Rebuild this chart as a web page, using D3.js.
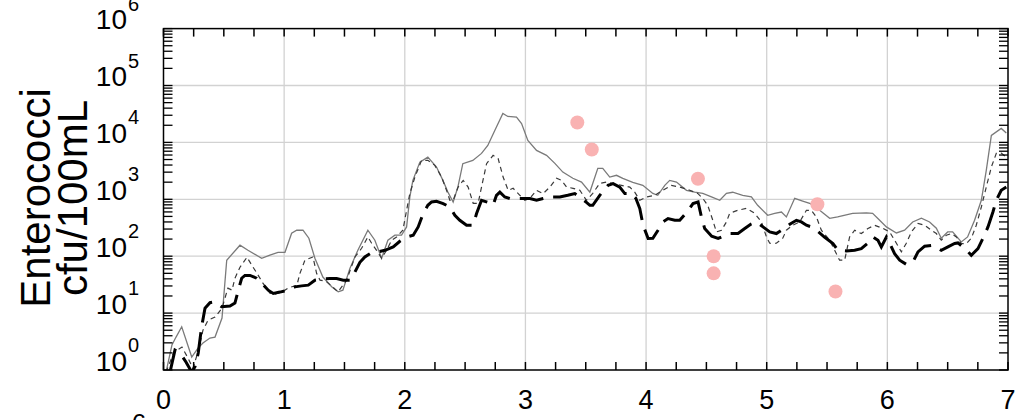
<!DOCTYPE html>
<html><head><meta charset="utf-8">
<script src="https://cdn.jsdelivr.net/npm/d3@7"></script>
<style>body{margin:0;background:#fff}svg{display:block}text{font-family:"Liberation Sans",Arial,sans-serif;fill:#000}</style>
</head><body><svg id="c" width="1020" height="420"></svg>
<script>
// x ticks (days) and y decades
const xTicks = [0,1,2,3,4,5,6,7];
const yDecades = [0,1,2,3,4,5,6];

// Series 1: thin grey solid line
const grayDays = [0.021,0.070,0.104,0.151,0.234,0.286,0.327,0.385,0.427,0.485,0.524,0.634,0.700,0.814,0.882,0.949,1.007,1.062,1.104,1.156,1.205,1.255,1.321,1.394,1.448,1.487,1.545,1.611,1.694,1.752,1.808,1.860,1.918,1.973,2.015,2.042,2.067,2.125,2.191,2.263,2.316,2.357,2.401,2.440,2.481,2.564,2.636,2.688,2.746,2.813,2.854,2.926,2.968,3.020,3.092,3.175,3.244,3.310,3.393,3.465,3.534,3.600,3.641,3.699,3.755,3.807,3.890,3.973,4.056,4.097,4.155,4.196,4.252,4.335,4.403,4.470,4.542,4.611,4.666,4.718,4.801,4.873,4.925,5.008,5.066,5.122,5.163,5.232,5.298,5.356,5.439,5.522,5.588,5.712,5.826,5.878,5.936,5.992,6.075,6.143,6.210,6.282,6.350,6.406,6.447,6.500,6.541,6.613,6.665,6.723,6.779,6.820,6.862,6.944,6.986];
const grayVals = [0.92,2.75,3.79,5.75,1.69,2.43,2.98,3.64,3.79,8.17,85,156,127,92,104,117,117,253,286,286,207,92,43,29,23.6,25.3,61,127,286,191,92,191,234,234,327,1100,2150,4510,5520,3690,2150,1340,897,1640,4230,4830,6410,8850,16200,32300,28600,27800,21500,10800,7240,5920,4280,3010,2340,2010,1340,3500,3500,2460,2640,2340,1990,1760,1270,1175,1760,2150,2010,1440,1340,1270,1100,960,1270,1330,1175,1100,785,524,568,598,489,1040,933,851,641,464,489,568,575,568,428,327,256,286,400,464,400,310,207,267,267,178,218,428,960,3230,13300,17600,14600];

// Series 2: thin dark dashed line
const dashDays = [0.021,0.087,0.153,0.203,0.244,0.286,0.327,0.369,0.427,0.485,0.534,0.568,0.592,0.634,0.692,0.733,0.775,0.824,0.882,0.924,0.982,1.031,1.106,1.131,1.172,1.239,1.269,1.297,1.346,1.404,1.446,1.518,1.587,1.642,1.694,1.725,1.766,1.808,1.849,1.891,1.932,1.984,2.015,2.042,2.084,2.139,2.191,2.249,2.305,2.346,2.374,2.401,2.442,2.484,2.525,2.567,2.608,2.636,2.678,2.732,2.774,2.815,2.857,2.898,2.954,2.995,3.037,3.092,3.147,3.202,3.258,3.299,3.341,3.395,3.451,3.506,3.558,3.616,3.672,3.724,3.796,3.865,3.906,3.948,4.003,4.072,4.138,4.210,4.279,4.362,4.428,4.470,4.511,4.553,4.583,4.625,4.666,4.693,4.760,4.832,4.900,4.956,4.998,5.025,5.080,5.133,5.163,5.215,5.273,5.329,5.370,5.412,5.453,5.522,5.563,5.604,5.646,5.687,5.729,5.784,5.839,5.894,5.961,6.019,6.075,6.116,6.157,6.199,6.254,6.309,6.365,6.406,6.447,6.489,6.530,6.572,6.613,6.655,6.696,6.737,6.779,6.820,6.862,6.903,6.944,6.986];
const dashVals = [0.92,2.07,2.53,1.62,1.08,2.07,5.0,7.5,8.5,12.2,27.5,25.3,41,64,96,69,50,33.6,22.4,21.5,23.4,27.5,31,50,85,97,50,38,36.4,28.6,23.6,38,97,138,218,169,127,92,127,191,218,286,641,1270,2460,4830,4830,3950,2460,1440,960,960,1640,2150,1640,851,851,1640,4230,5920,5180,2460,1440,1560,1175,960,1040,1440,1260,1640,2340,2150,1640,1560,1440,960,1270,1910,2010,1910,1760,1640,1340,960,1100,1175,1440,1760,1640,1440,1270,1040,785,428,267,286,400,568,641,695,568,400,218,169,169,207,286,350,400,641,641,489,286,191,127,85,85,218,286,250,306,350,310,267,169,119,169,267,375,350,286,250,191,234,250,218,167,167,207,350,733,1640,3690,6410,6490,5520];

// Series 3: thick black long-dashed line
const blackDays = [0.054,0.095,0.137,0.186,0.234,0.261,0.288,0.316,0.344,0.385,0.427,0.482,0.551,0.592,0.620,0.648,0.675,0.717,0.772,0.814,0.868,0.910,0.965,1.034,1.089,1.145,1.200,1.255,1.313,1.379,1.435,1.490,1.545,1.587,1.628,1.669,1.711,1.780,1.835,1.904,1.959,2.015,2.070,2.111,2.152,2.191,2.222,2.263,2.318,2.374,2.415,2.456,2.512,2.567,2.595,2.636,2.688,2.732,2.760,2.788,2.829,2.871,2.912,2.970,3.037,3.092,3.147,3.202,3.285,3.351,3.409,3.465,3.506,3.534,3.558,3.616,3.685,3.727,3.782,3.824,3.879,3.915,3.948,3.975,4.017,4.056,4.099,4.141,4.182,4.238,4.279,4.337,4.389,4.431,4.459,4.486,4.544,4.597,4.638,4.693,4.762,4.818,4.867,4.915,4.969,5.025,5.080,5.122,5.191,5.246,5.287,5.329,5.370,5.412,5.481,5.549,5.591,5.660,5.729,5.784,5.837,5.881,5.922,5.950,5.992,6.019,6.060,6.102,6.157,6.212,6.254,6.309,6.378,6.447,6.502,6.558,6.585,6.641,6.696,6.751,6.792,6.834,6.875,6.903,6.944,6.986];
const blackVals = [0.92,2.24,1.99,1.38,0.92,1.14,1.99,5.75,12.2,15.2,15.8,12.9,13.3,15.0,25.3,41,46,46,41,33.6,25.3,22.2,23.4,25.3,28.9,30.1,31,37.9,39.5,40.6,40.6,37.9,37.9,53,78,97,111,119,127,146,183,218,234,327,561,785,897,922,841,733,524,428,350,350,561,960,885,785,1175,1340,1100,1030,1030,1030,1030,960,1030,1100,1100,1175,1260,1030,885,785,785,1175,1760,1885,1640,1260,1260,1040,687,350,205,207,286,400,458,428,428,592,841,897,489,306,224,205,224,250,250,306,364,400,327,267,250,286,364,428,400,350,327,286,215,167,127,124,127,136,169,218,191,146,218,169,111,85,72,79,119,150,156,127,146,167,171,138,104,136,205,327,598,960,1440,1640];

// Pink sample points
const sampleDays = [3.43,3.55,4.43,4.56,4.56,5.42,5.57];
const sampleVals = [22400,7500,2300,100,50,820,24];

const svg = d3.select("#c");
const L=163.5, R=1008, T=28.6, B=370;
const x = d3.scaleLinear().domain([0,7]).range([L,R]);
const y = d3.scaleLog().domain([1,1e6]).range([B,T]);

svg.append("defs").append("clipPath").attr("id","clip")
  .append("rect").attr("x",L).attr("y",T).attr("width",R-L).attr("height",B-T);

// grid
const g = svg.append("g");
g.selectAll(".gx").data(xTicks.slice(1,-1)).enter().append("line")
  .attr("x1",d=>x(d)).attr("x2",d=>x(d)).attr("y1",T).attr("y2",B)
  .attr("stroke","#d2d2d2").attr("stroke-width",1.3);
g.selectAll(".gy").data(yDecades.slice(1,-1)).enter().append("line")
  .attr("y1",d=>y(Math.pow(10,d))).attr("y2",d=>y(Math.pow(10,d))).attr("x1",L).attr("x2",R)
  .attr("stroke","#d2d2d2").attr("stroke-width",1.3);

const plot = svg.append("g").attr("clip-path","url(#clip)");
const mk = (days, vals) => days.map((d,i)=>[d, vals[i]]);
const line = d3.line().x(d=>x(d[0])).y(d=>y(d[1]));

plot.append("path").datum(mk(grayDays,grayVals)).attr("d",line)
  .attr("fill","none").attr("stroke","#7a7a7a").attr("stroke-width",1.3);
plot.append("path").datum(mk(dashDays,dashVals)).attr("d",line)
  .attr("fill","none").attr("stroke","#3a3a3a").attr("stroke-width",1.2).attr("stroke-dasharray","5,4");
plot.append("path").datum(mk(blackDays,blackVals)).attr("d",line)
  .attr("fill","none").attr("stroke","#000").attr("stroke-width",3).attr("stroke-dasharray","24,10");

svg.append("g").selectAll("circle").data(sampleDays).enter().append("circle")
  .attr("cx",d=>x(d)).attr("cy",(d,i)=>y(sampleVals[i])).attr("r",7)
  .attr("fill","#f9b2b2");

// frame and ticks
const ax = svg.append("g");
ax.append("rect").attr("x",L).attr("y",T).attr("width",R-L).attr("height",B-T)
  .attr("fill","none").attr("stroke","#000").attr("stroke-width",1.5);
const xMinor = d3.range(0,7.001,0.25);
ax.selectAll(".tb").data(xMinor).enter().append("line")
  .attr("x1",d=>x(d)).attr("x2",d=>x(d)).attr("y1",B).attr("y2",B-8).attr("stroke","#000").attr("stroke-width",1.5);
ax.selectAll(".tt").data(xMinor).enter().append("line")
  .attr("x1",d=>x(d)).attr("x2",d=>x(d)).attr("y1",T).attr("y2",T+8).attr("stroke","#000").attr("stroke-width",1.5);
const yMinor = [];
yDecades.forEach(dd=>{ if(dd<6){ for(let k=1;k<10;k++) yMinor.push(k*Math.pow(10,dd)); } else yMinor.push(Math.pow(10,dd)); });
ax.selectAll(".tl").data(yMinor).enter().append("line")
  .attr("y1",d=>y(d)).attr("y2",d=>y(d)).attr("x1",L).attr("x2",L+9).attr("stroke","#000").attr("stroke-width",1.3);
ax.selectAll(".tr").data(yMinor).enter().append("line")
  .attr("y1",d=>y(d)).attr("y2",d=>y(d)).attr("x1",R).attr("x2",R-9).attr("stroke","#000").attr("stroke-width",1.3);

// x labels
ax.selectAll(".xl").data(xTicks).enter().append("text")
  .attr("x",d=>x(d)).attr("y",409).attr("text-anchor","middle").attr("font-size",27).text(d=>d);

// y labels
const yl = ax.selectAll(".yl").data(yDecades).enter().append("g");
yl.append("text").attr("x",127).attr("y",d=>y(Math.pow(10,d))+0.5).attr("text-anchor","end").attr("font-size",28).text("10");
yl.append("text").attr("x",128).attr("y",d=>y(Math.pow(10,d))-18).attr("font-size",20).text(d=>d);

// stray glyph of the next panel (cropped)
ax.append("text").attr("x",139).attr("y",432).attr("text-anchor","middle").attr("font-size",26).text("6");

// axis title
const ty = svg.append("g").attr("transform","translate(0,198) rotate(-90)");
ty.append("text").attr("x",0).attr("y",50).attr("text-anchor","middle").attr("font-size",42).text("Enterococci");
ty.append("text").attr("x",0).attr("y",87).attr("text-anchor","middle").attr("font-size",42).text("cfu/100mL");
</script></body></html>
